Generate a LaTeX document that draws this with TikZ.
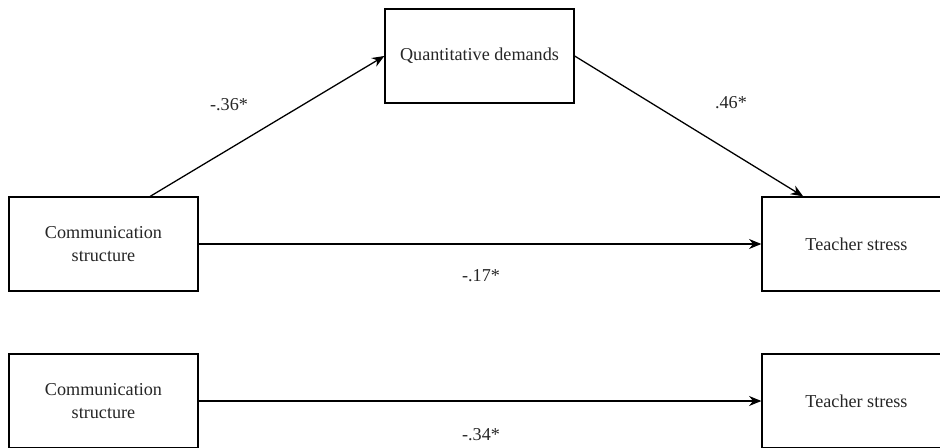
\documentclass[tikz,border=0pt]{standalone}
\usepackage{fontspec}
\setmainfont{Liberation Serif}
\usepackage{tikz}
\usetikzlibrary{arrows.meta}

\tikzset{
  varbox/.style={draw,line width=1.1pt,fill=white,minimum width=5.67cm,minimum height=2.82cm,
    align=center,font=\rmfamily\fontsize{15.5}{19}\selectfont,text=black!85},
  coef/.style={font=\rmfamily\fontsize{15.5}{19}\selectfont,text=black!85},
  path/.style={line width=1.1pt,->}
}

\begin{document}
\begin{tikzpicture}[x=0.3mm,y=-0.3mm,>={Stealth[length=10.5pt,width=8.5pt]}]
  \useasboundingbox (0,0) rectangle (940,448);
  \clip (0,0) rectangle (940,448);
  % mediation model
  \node[varbox] (quant) at (479.5,56) {Quantitative demands};
  \node[varbox] (comA) at (103.5,244) {Communication\\structure};
  \node[varbox] (stressA) at (856.5,244) {Teacher stress};
  \draw[path] ([xshift=1.4cm]comA.north) -- (quant.west);
  \draw[path] (quant.east) -- ([xshift=-1.6cm]stressA.north);
  \draw[path] (comA) -- (stressA);
  \node[coef] at (229,105) {-.36*};
  \node[coef] at (731,103) {.46*};
  \node[coef] at (481,276) {-.17*};
  % total effect
  \node[varbox] (comB) at (103.5,401) {Communication\\structure};
  \node[varbox] (stressB) at (856.5,401) {Teacher stress};
  \draw[path] (comB) -- (stressB);
  \node[coef] at (481,435) {-.34*};
\end{tikzpicture}
\end{document}
